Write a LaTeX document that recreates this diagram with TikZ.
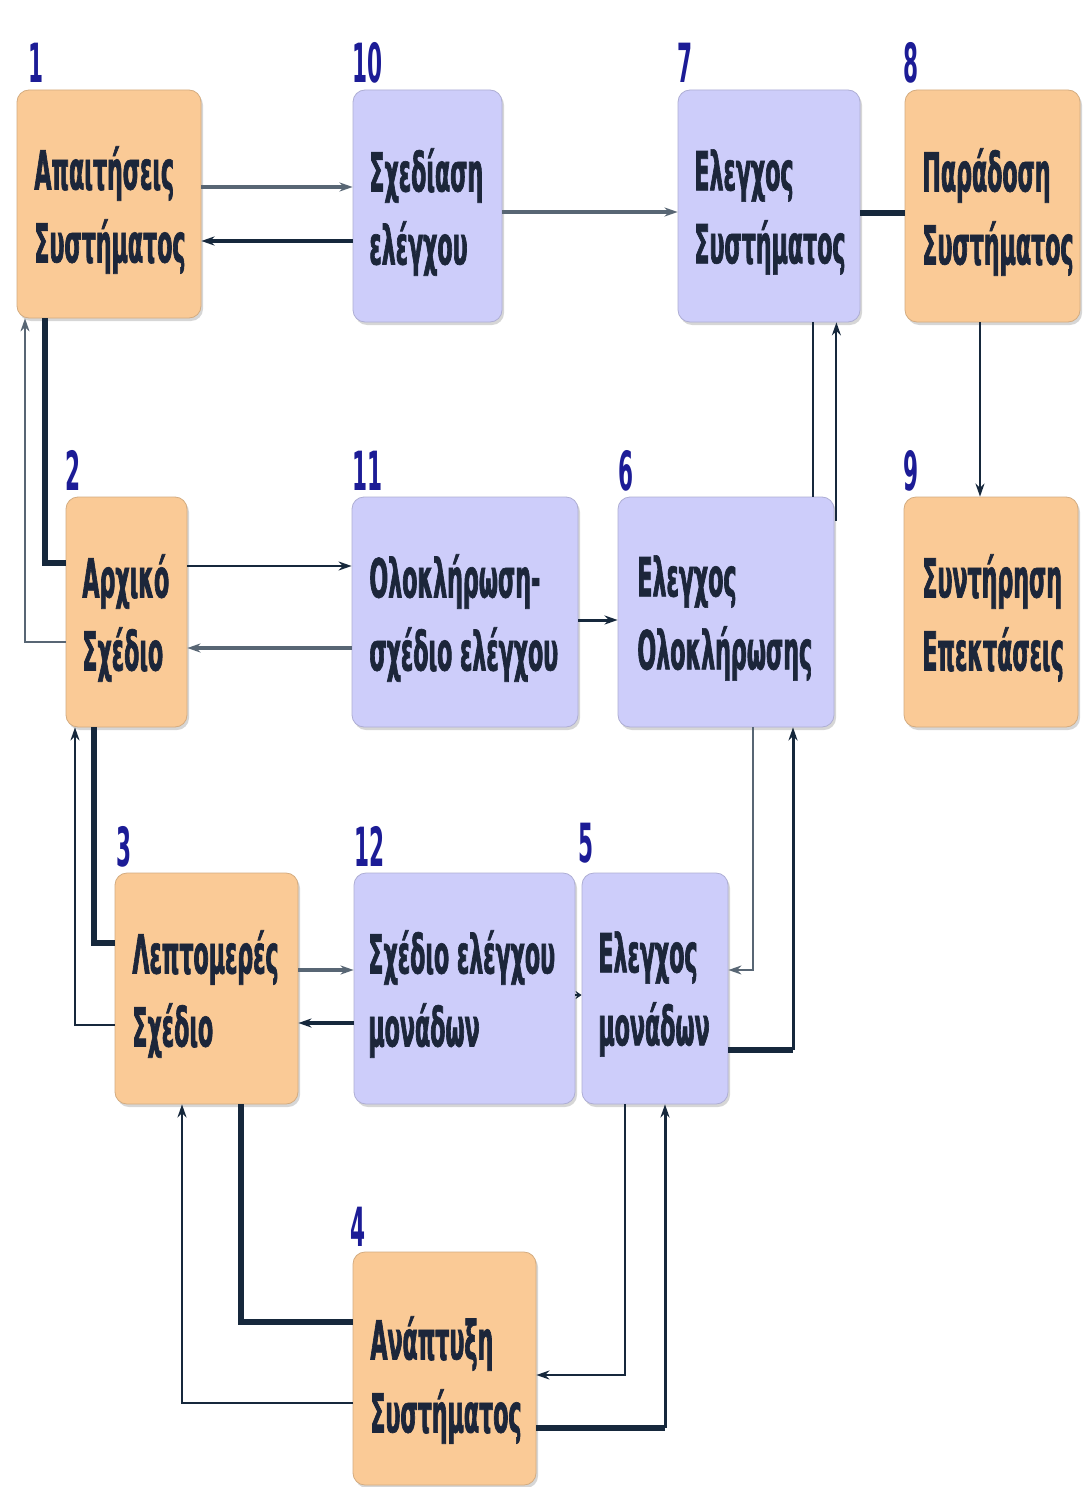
\documentclass[tikz,border=0pt]{standalone}
\usepackage{fontspec}
\usetikzlibrary{arrows.meta,shadows,calc}
\newfontfamily\lblfont{DejaVu Sans}[FakeStretch=0.41, FakeBold=1.2]
\newfontfamily\numfont{DejaVu Sans}[FakeStretch=0.40]

\definecolor{peach}{RGB}{250,202,150}
\definecolor{lav}{RGB}{205,205,250}
\definecolor{ink}{RGB}{28,38,58}
\definecolor{numblue}{RGB}{28,28,150}
\definecolor{wire}{RGB}{22,40,60}
\definecolor{wiregray}{RGB}{88,102,116}

\tikzset{
  box/.style={rounded corners=6pt, draw=#1!85!black, line width=0.4pt, fill=#1,
    drop shadow={shadow xshift=1pt, shadow yshift=-1.5pt, opacity=0.32}, inner sep=0pt},
  lbl/.style={font=\lblfont\bfseries\fontsize{27}{36.5}\selectfont, text=ink,
    align=left, inner sep=0pt, anchor=west},
  num/.style={font=\numfont\bfseries\fontsize{27}{27}\selectfont, text=numblue,
    inner sep=0pt, anchor=base west},
  tip/.style={-{Stealth[length=6.5pt,width=4.5pt]}},
  heavy/.style={line width=3pt, draw=wire},
  thinarr/.style={tip, line width=1pt, draw=wire},
  thinline/.style={line width=1pt, draw=wire},
  midarr/.style={tip, line width=1.5pt, draw=wire},
  grayarr/.style={tip, line width=2pt, draw=wiregray},
  darkarr/.style={tip, line width=2pt, draw=wire},
  faintarr/.style={tip, line width=0.9pt, draw=wiregray},
}

\begin{document}
\begin{tikzpicture}[x=0.5pt, y=-0.5pt]
  \fill[white] (0,0) rectangle (1082,1487);
  \useasboundingbox (0,0) rectangle (1082,1487);

  % process boxes (peach: development phases, lavender: test phases)
  \node[box=peach, minimum width=92pt,  minimum height=114pt]   (b1)  at (109,204)    {};
  \node[box=lav,   minimum width=74.5pt,minimum height=116pt]   (b10) at (427.5,206)  {};
  \node[box=lav,   minimum width=91pt,  minimum height=116pt]   (b7)  at (769,206)    {};
  \node[box=peach, minimum width=87.5pt,minimum height=116pt]   (b8)  at (992.5,206)  {};
  \node[box=peach, minimum width=60.5pt,minimum height=115pt]   (b2)  at (126.5,612)  {};
  \node[box=lav,   minimum width=113pt, minimum height=115pt]   (b11) at (465,612)    {};
  \node[box=lav,   minimum width=108pt, minimum height=115pt]   (b6)  at (726,612)    {};
  \node[box=peach, minimum width=87pt,  minimum height=115pt]   (b9)  at (991,612)    {};
  \node[box=peach, minimum width=91.5pt,minimum height=115.5pt] (b3)  at (206.5,988.5){};
  \node[box=lav,   minimum width=110.5pt,minimum height=115.5pt](b12) at (464.5,988.5){};
  \node[box=lav,   minimum width=73pt,  minimum height=115.5pt] (b5)  at (655,988.5)  {};
  \node[box=peach, minimum width=91.5pt,minimum height=116.5pt] (b4)  at (444.5,1368.5){};

  % box captions
  \node[lbl] (t1)  at (34,210)   {Απαιτήσεις\\Συστήματος};
  \node[lbl] (t10) at (369,212)  {Σχεδίαση\\ελέγχου};
  \node[lbl] (t7)  at (694,212)  {Ελεγχος\\Συστήματος};
  \node[lbl] (t8)  at (922,212)  {Παράδοση\\Συστήματος};
  \node[lbl] (t2)  at (82,618)   {Αρχικό\\Σχέδιο};
  \node[lbl] (t11) at (369,618)  {Ολοκλήρωση-\\σχέδιο ελέγχου};
  \node[lbl] (t6)  at (637,618)  {Ελεγχος\\Ολοκλήρωσης};
  \node[lbl] (t9)  at (922,618)  {Συντήρηση\\Επεκτάσεις};
  \node[lbl] (t3)  at (132,994)  {Λεπτομερές\\Σχέδιο};
  \node[lbl] (t12) at (368,994)  {Σχέδιο ελέγχου\\μονάδων};
  \node[lbl] (t5)  at (598,994)  {Ελεγχος\\μονάδων};
  \node[lbl] (t4)  at (370,1380) {Ανάπτυξη\\Συστήματος};

  % step numbers
  \node[num] (n1)  at (28,83)    {1};
  \node[num] (n10) at (352,83)   {10};
  \node[num] (n7)  at (677,83)   {7};
  \node[num] (n8)  at (903,83)   {8};
  \node[num] (n2)  at (65,490)   {2};
  \node[num] (n11) at (352,490)  {11};
  \node[num] (n6)  at (618,490)  {6};
  \node[num] (n9)  at (903,490)  {9};
  \node[num] (n3)  at (116,866)  {3};
  \node[num] (n12) at (354,866)  {12};
  \node[num] (n5)  at (578,862)  {5};
  \node[num] (n4)  at (350,1246) {4};

  % top row
  \draw[grayarr] (b1.east |- 0,187) -- (b10.west |- 0,187);
  \draw[darkarr] (b10.west |- 0,241) -- (b1.east |- 0,241);
  \draw[grayarr] (b10.east |- 0,212) -- (b7.west |- 0,212);
  \draw[heavy]   (b7.east |- 0,213) -- (b8.west |- 0,213);
  \draw[thinarr] (980,0 |- b8.south) -- (980,0 |- b9.north);

  % requirements <-> preliminary design
  \draw[heavy]    (45,0 |- b1.south) |- (b2.west |- 0,563);
  \draw[faintarr] (b2.west |- 0,642) -| (25,0 |- b1.south);

  % middle row
  \draw[thinarr] (b2.east |- 0,566) -- (b11.west |- 0,566);
  \draw[grayarr] (b11.west |- 0,648) -- (b2.east |- 0,648);
  \draw[midarr]  (b11.east |- 0,620) -- (b6.west |- 0,620);

  % integration test <-> system test
  \draw[thinline] (813,0 |- b7.south) -- (813,0 |- b6.north);
  \coordinate (c6) at ($(b6.north east)+(2,24)$);
  \draw[thinarr] (c6) -- (c6 |- b7.south);

  % unit test <-> integration test
  \draw[faintarr] (753,0 |- b6.south) |- (b5.east |- 0,970);
  \coordinate (k5) at (793,1050);
  \draw[heavy]  (b5.east |- k5) -- (k5);
  \draw[midarr] (k5) -- (k5 |- b6.south);

  % preliminary design <-> detailed design
  \draw[heavy]   (94,0 |- b2.south) |- (b3.west |- 0,943);
  \draw[thinarr] (b3.west |- 0,1025) -| (75,0 |- b2.south);

  % bottom row
  \draw[grayarr] (b3.east |- 0,970) -- (b12.west |- 0,970);
  \draw[darkarr] (b12.west |- 0,1023) -- (b3.east |- 0,1023);
  \draw[-{Stealth[length=3pt,width=4pt]}, line width=1pt, draw=wire]
    (b12.east |- 0,995) -- (b5.west |- 0,995);

  % detailed design <-> implementation
  \draw[heavy]   (241,0 |- b3.south) |- (b4.west |- 0,1322);
  \draw[thinarr] (b4.west |- 0,1403) -| (182,0 |- b3.south);

  % implementation <-> unit test
  \draw[thinarr] (625,0 |- b5.south) |- (b4.east |- 0,1375);
  \coordinate (k4) at (665,1428);
  \draw[heavy]  (b4.east |- k4) -- (k4);
  \draw[midarr] (k4) -- (k4 |- b5.south);
\end{tikzpicture}
\end{document}
